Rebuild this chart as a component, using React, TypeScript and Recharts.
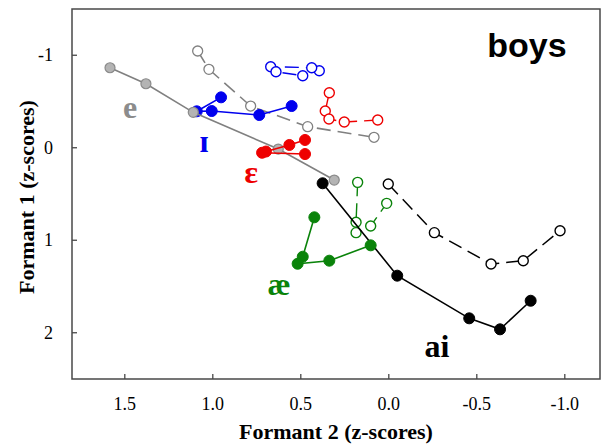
import { ReferenceArea, Scatter, ScatterChart, XAxis, YAxis } from "recharts"

type Pt = { x: number; y: number }
type Tag = { x: number; y: number; text: string; color: string }

// x = Formant 2 z-score, y = Formant 1 z-score (both axes reversed)
const eFilled: Pt[] = [
  { x: 1.584, y: -0.865 },
  { x: 1.38, y: -0.692 },
  { x: 1.111, y: -0.383 },
  { x: 0.628, y: 0.014 },
  { x: 0.31, y: 0.349 },
]
const eOpen: Pt[] = [
  { x: 1.086, y: -1.046 },
  { x: 1.022, y: -0.848 },
  { x: 0.785, y: -0.451 },
  { x: 0.461, y: -0.228 },
  { x: 0.084, y: -0.113 },
]
const ihFilled: Pt[] = [
  { x: 0.953, y: -0.545 },
  { x: 1.091, y: -0.394 },
  { x: 1.006, y: -0.397 },
  { x: 0.736, y: -0.354 },
  { x: 0.552, y: -0.451 },
]
const ihOpen: Pt[] = [
  { x: 0.395, y: -0.833 },
  { x: 0.438, y: -0.865 },
  { x: 0.671, y: -0.876 },
  { x: 0.641, y: -0.822 },
  { x: 0.489, y: -0.779 },
]
const ehFilled: Pt[] = [
  { x: 0.476, y: -0.084 },
  { x: 0.565, y: -0.03 },
  { x: 0.698, y: 0.041 },
  { x: 0.72, y: 0.054 },
  { x: 0.476, y: 0.068 },
]
const ehOpen: Pt[] = [
  { x: 0.338, y: -0.595 },
  { x: 0.361, y: -0.397 },
  { x: 0.34, y: -0.311 },
  { x: 0.253, y: -0.278 },
  { x: 0.063, y: -0.3 },
]
const aeFilled: Pt[] = [
  { x: 0.423, y: 0.752 },
  { x: 0.489, y: 1.178 },
  { x: 0.518, y: 1.254 },
  { x: 0.338, y: 1.221 },
  { x: 0.103, y: 1.055 },
]
const aeOpen: Pt[] = [
  { x: 0.177, y: 0.374 },
  { x: 0.186, y: 0.806 },
  { x: 0.186, y: 0.918 },
  { x: 0.103, y: 0.846 },
  { x: 0.012, y: 0.601 },
]
const aiFilled: Pt[] = [
  { x: 0.376, y: 0.384 },
  { x: -0.048, y: 1.383 },
  { x: -0.457, y: 1.844 },
  { x: -0.632, y: 1.963 },
  { x: -0.806, y: 1.654 },
]
const aiOpen: Pt[] = [
  { x: 0.003, y: 0.392 },
  { x: -0.259, y: 0.918 },
  { x: -0.581, y: 1.257 },
  { x: -0.764, y: 1.221 },
  { x: -0.973, y: 0.897 },
]

const vowelTags: Tag[] = [
  { x: 1.47, y: -0.322, text: "e", color: "#8c8c8c" },
  { x: 1.05, y: 0.046, text: "ɪ", color: "#0000ee" },
  { x: 0.783, y: 0.381, text: "ɛ", color: "#ee0000" },
  { x: 0.624, y: 1.592, text: "æ", color: "#0a830a" },
  { x: -0.274, y: 2.262, text: "ai", color: "#000000" },
]
const titleTag: Tag[] = [{ x: -0.785, y: -0.981, text: "boys", color: "#000000" }]

const xTicks = [1.5, 1.0, 0.5, 0.0, -0.5, -1.0]
const yTicks = [-1, 0, 1, 2]

const SERIF = '"Liberation Serif", "Times New Roman", "DejaVu Serif", serif'
const SANS = '"Liberation Sans", Arial, sans-serif'
const FRAME = "#484848"
const DASH = "14 7"

const dot = (fill: string, stroke: string, r = 5.5, sw = 1) => (p: any) =>
  <circle cx={p.cx} cy={p.cy} r={r} fill={fill} stroke={stroke} strokeWidth={sw} />

const vowelLabel = (p: any) => (
  <text
    x={p.cx}
    y={p.cy}
    textAnchor="middle"
    fill={p.payload.color}
    fontFamily={SERIF}
    fontWeight="bold"
    fontSize={32}
  >
    {p.payload.text}
  </text>
)

const titleLabel = (p: any) => (
  <text x={p.cx} y={p.cy} textAnchor="middle" fill="#000" fontFamily={SANS} fontWeight="bold" fontSize={34}>
    {p.payload.text}
  </text>
)

const yTitle = (p: any) => {
  const vb = p.viewBox
  const cx = vb.x + 26
  const cy = vb.y + vb.height / 2 + 3
  return (
    <text
      x={cx}
      y={cy}
      transform={`rotate(-90, ${cx}, ${cy})`}
      textAnchor="middle"
      dominantBaseline="central"
      fontFamily={SERIF}
      fontWeight="bold"
      fontSize={22}
      fill="#000"
    >
      Formant 1 (z-scores)
    </text>
  )
}

const xTitle = (p: any) => {
  const vb = p.viewBox
  return (
    <text
      x={vb.x + vb.width / 2}
      y={vb.y + vb.height - 7}
      textAnchor="middle"
      fontFamily={SERIF}
      fontWeight="bold"
      fontSize={22}
      fill="#000"
    >
      Formant 2 (z-scores)
    </text>
  )
}

// custom tick so the serif face is applied directly to the text node
const axisTick = (fmt: (v: number) => string) => (p: any) => (
  <text
    x={p.x}
    y={p.y}
    textAnchor={p.textAnchor}
    dominantBaseline={p.orientation === "bottom" ? "hanging" : "central"}
    fontFamily={SERIF}
    fontSize={18}
    fill="#000"
  >
    {fmt(p.payload.value)}
  </text>
)

export default function App() {
  return (
    <div style={{ position: "absolute", left: 0, top: 0, background: "#fff", fontFamily: SERIF }}>
      <ScatterChart width={604} height={446} margin={{ top: 9, right: 4, bottom: 0, left: 0 }}>
        <XAxis
          type="number"
          dataKey="x"
          domain={[-1.2, 1.8]}
          reversed
          ticks={xTicks}
          height={67}
          axisLine={false}
          tickSize={-5}
          tickMargin={23}
          tickLine={{ stroke: FRAME, strokeWidth: 1.3 }}
          tick={axisTick((v) => v.toFixed(1))}
          label={xTitle}
        />
        <YAxis
          type="number"
          dataKey="y"
          domain={[-1.5, 2.5]}
          reversed
          ticks={yTicks}
          width={72}
          axisLine={false}
          tickSize={-5}
          tickMargin={24}
          tickLine={{ stroke: FRAME, strokeWidth: 1.3 }}
          tick={axisTick((v) => String(v))}
          label={yTitle}
        />
        <YAxis
          yAxisId="right"
          orientation="right"
          type="number"
          domain={[-1.5, 2.5]}
          reversed
          ticks={yTicks}
          width={0}
          axisLine={false}
          tickSize={-5}
          tickLine={{ stroke: FRAME, strokeWidth: 1.3 }}
          tick={false}
        />
        <ReferenceArea
          x1={1.8}
          x2={-1.2}
          y1={-1.5}
          y2={2.5}
          fill="none"
          stroke={FRAME}
          strokeWidth={1.5}
          ifOverflow="visible"
        />

        <Scatter data={eOpen} isAnimationActive={false} line={{ stroke: "#808080", strokeWidth: 1.6, strokeDasharray: DASH }} shape={dot("#fff", "#808080", 5, 1.3)} />
        <Scatter data={ihOpen} isAnimationActive={false} line={{ stroke: "#0000ee", strokeWidth: 1.4, strokeDasharray: DASH }} shape={dot("#fff", "#0000ee", 5, 1.4)} />
        <Scatter data={ehOpen} isAnimationActive={false} line={{ stroke: "#ee0000", strokeWidth: 1.4, strokeDasharray: DASH }} shape={dot("#fff", "#ee0000", 5, 1.4)} />
        <Scatter data={aeOpen} isAnimationActive={false} line={{ stroke: "#0a830a", strokeWidth: 1.4, strokeDasharray: DASH }} shape={dot("#fff", "#0a830a", 5, 1.4)} />
        <Scatter data={aiOpen} isAnimationActive={false} line={{ stroke: "#000", strokeWidth: 1.5, strokeDasharray: DASH }} shape={dot("#fff", "#000", 5, 1.4)} />
        <Scatter data={ihFilled} isAnimationActive={false} line={{ stroke: "#0000ee", strokeWidth: 1.6 }} shape={dot("#0000ee", "#0000ee")} />
        <Scatter data={eFilled} isAnimationActive={false} line={{ stroke: "#808080", strokeWidth: 1.6 }} shape={dot("#b4b4b4", "#8a8a8a", 5, 1.2)} />
        <Scatter data={ehFilled} isAnimationActive={false} line={{ stroke: "#ee0000", strokeWidth: 1.6 }} shape={dot("#ee0000", "#ee0000")} />
        <Scatter data={aiFilled} isAnimationActive={false} line={{ stroke: "#000", strokeWidth: 1.6 }} shape={dot("#000", "#000")} />
        <Scatter data={aeFilled} isAnimationActive={false} line={{ stroke: "#0a830a", strokeWidth: 1.6 }} shape={dot("#0a830a", "#0a830a")} />

        <Scatter data={vowelTags} isAnimationActive={false} shape={vowelLabel} />
        <Scatter data={titleTag} isAnimationActive={false} shape={titleLabel} />
      </ScatterChart>
    </div>
  )
}
